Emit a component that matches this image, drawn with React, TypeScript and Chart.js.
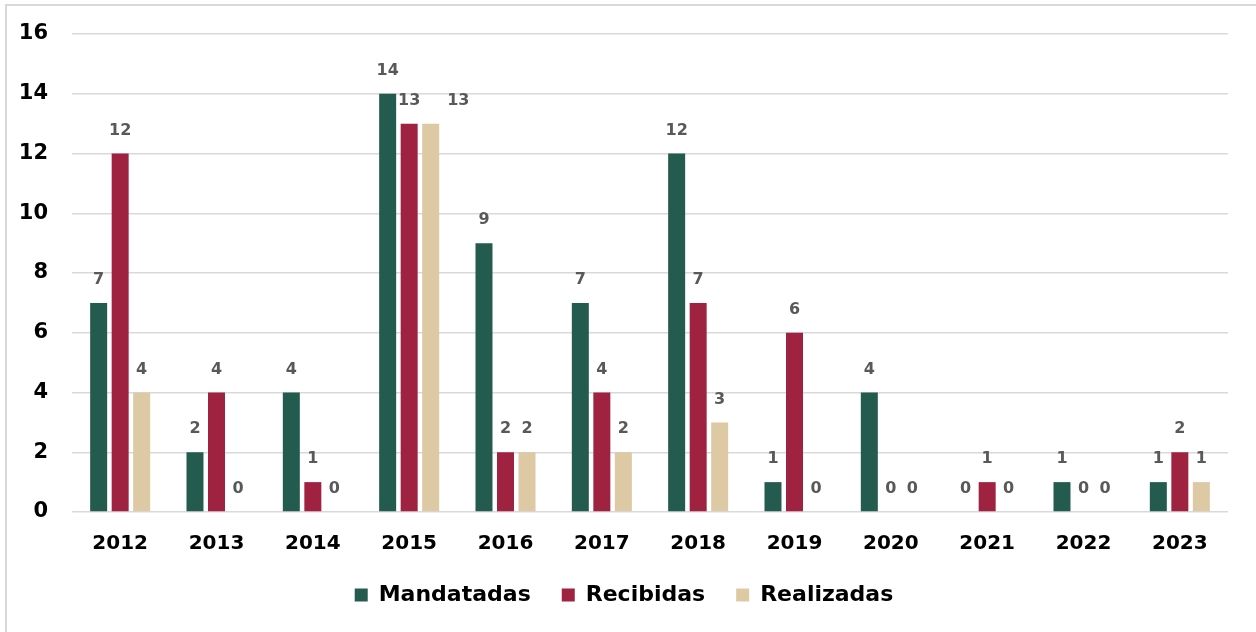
import React, { useEffect, useRef } from "react";
import { Chart, registerables } from "chart.js";

Chart.register(...registerables);

const years = ["2012", "2013", "2014", "2015", "2016", "2017", "2018", "2019", "2020", "2021", "2022", "2023"];
const mandatadas = [7, 2, 4, 14, 9, 7, 12, 1, 4, 0, 1, 1];
const recibidas = [12, 4, 1, 13, 2, 4, 7, 6, 0, 1, 0, 2];
const realizadas = [4, 0, 0, 13, 2, 2, 3, 0, 0, 0, 0, 1];
const yTicks = [0, 2, 4, 6, 8, 10, 12, 14, 16];

const FONT = "'DejaVu Sans', sans-serif";

const labelPlugin = {
  id: "barLabels",
  afterDatasetsDraw(chart: any) {
    const ctx = chart.ctx;
    ctx.save();
    ctx.font = `700 16px ${FONT}`;
    ctx.fillStyle = "#595959";
    ctx.textBaseline = "middle";
    const n = chart.data.labels.length;
    for (let j = 0; j < n; j++) {
      const boxes: { l: number; r: number; t: number; b: number }[] = [];
      chart.data.datasets.forEach((ds: any, i: number) => {
        const el: any = chart.getDatasetMeta(i).data[j];
        const txt = String(ds.data[j]);
        const w = ctx.measureText(txt).width;
        let cx = el.x;
        const cy = el.y - 23;
        let box = { l: cx - w / 2, r: cx + w / 2, t: cy - 8, b: cy + 8 };
        const hit = boxes.some((o) => box.l < o.r + 3 && box.r > o.l - 3 && box.t < o.b && box.b > o.t);
        if (hit) {
          const half = el.width / 2;
          cx = el.x + half + 8 + w / 2;
          box = { l: cx - w / 2, r: cx + w / 2, t: cy - 8, b: cy + 8 };
        }
        boxes.push(box);
        ctx.textAlign = "center";
        ctx.fillText(txt, cx, cy);
      });
    }
    ctx.restore();
  },
};

export default function App() {
  const ref = useRef<HTMLCanvasElement>(null);
  useEffect(() => {
    if (!ref.current) return;
    const chart = new Chart(ref.current, {
      type: "bar",
      data: {
        labels: years,
        datasets: [
          { label: "Mandatadas", data: mandatadas, backgroundColor: "#235B4E" },
          { label: "Recibidas", data: recibidas, backgroundColor: "#9F2241" },
          { label: "Realizadas", data: realizadas, backgroundColor: "#DDC9A3" },
        ],
      },
      options: {
        animation: false,
        responsive: false,
        maintainAspectRatio: false,
        layout: { padding: { left: 20, right: 28, top: 34, bottom: 16 } },
        datasets: { bar: { categoryPercentage: 0.67, barPercentage: 0.79 } },
        plugins: {
          legend: {
            position: "bottom",
            labels: {
              boxWidth: 13,
              boxHeight: 13,
              padding: 31,
              color: "#000",
              font: { family: FONT, size: 22, weight: "bold" },
            },
          },
          tooltip: { enabled: false },
        },
        scales: {
          x: {
            afterFit: (s: any) => { s.height = 41; },
            grid: { display: false, drawTicks: false },
            border: { display: false },
            ticks: { color: "#000", font: { family: FONT, size: 20, weight: "bold" }, padding: 20 },
          },
          y: {
            min: 0,
            max: 16,
            afterFit: (s: any) => { s.width = 52; s.paddingTop = 0; s.paddingBottom = 0; },
            afterBuildTicks: (s: any) => { s.ticks = yTicks.map((v) => ({ value: v })); },
            grid: { color: "#d9d9d9", lineWidth: 1.5, drawTicks: false },
            border: { display: false },
            ticks: { color: "#000", font: { family: FONT, size: 21, weight: "bold" }, padding: 24 },
          },
        },
      },
      plugins: [labelPlugin],
    });
    return () => chart.destroy();
  }, []);
  return (
    <div style={{ position: "fixed", left: 0, top: 0, width: 1256, height: 632, background: "#fff", overflow: "hidden" }}>
      <div style={{ position: "absolute", left: 5, top: 4, width: 1300, height: 700, border: "2px solid #d9d9d9" }} />
      <canvas ref={ref} width={1256} height={632} style={{ position: "absolute", left: 0, top: 0 }} />
    </div>
  );
}
